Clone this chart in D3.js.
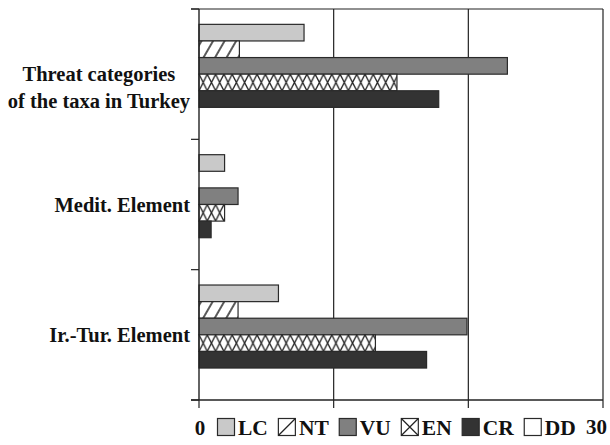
<!DOCTYPE html>
<html>
<head>
<meta charset="utf-8">
<script src="https://cdn.jsdelivr.net/npm/d3@7"></script>
<style>
  html, body { margin: 0; padding: 0; background: #fff; }
  svg { display: block; }
  text { font-family: "Liberation Serif", "Times New Roman", serif; font-weight: bold; fill: #111; }
</style>
</head>
<body>
<svg id="chart" width="610" height="445"></svg>
<script>
// ---- data ----
const groups = ["Threat categories of the taxa in Turkey", "Medit. Element", "Ir.-Tur. Element"];
const groupLabelLines = [["Threat categories", "of the taxa in Turkey"], ["Medit. Element"], ["Ir.-Tur. Element"]];
const series = ["LC", "NT", "VU", "EN", "CR", "DD"];
const valuesLC = [7.8, 1.9, 5.9];
const valuesNT = [3.0, 0, 2.9];
const valuesVU = [22.9, 2.9, 19.9];
const valuesEN = [14.7, 1.9, 13.1];
const valuesCR = [17.8, 0.9, 16.9];
const valuesDD = [0, 0, 0];
const xTicks = [0, 10, 20, 30];
const xTickLabels = ["0", "30"];

const seriesValues = { LC: valuesLC, NT: valuesNT, VU: valuesVU, EN: valuesEN, CR: valuesCR, DD: valuesDD };
const seriesFill = { LC: "#c9c9c9", NT: "url(#hatchNT)", VU: "#808080", EN: "#ffffff", CR: "#333333", DD: "#ffffff" };

const svg = d3.select("#chart");
const plotLeft = 199, plotRight = 603, plotTop = 9, plotBottom = 400;
const ink = "#222";

// patterns
const defs = svg.append("defs");
const pNT = defs.append("pattern").attr("id", "hatchNT").attr("patternUnits", "userSpaceOnUse")
  .attr("width", 10).attr("height", 10).attr("patternTransform", "rotate(30)");
pNT.append("rect").attr("width", 10).attr("height", 10).attr("fill", "#fff");
pNT.append("line").attr("x1", 5).attr("y1", -1).attr("x2", 5).attr("y2", 11)
  .attr("stroke", ink).attr("stroke-width", 1.5);

function crossPattern(id, px, py, w, h) {
  const p = defs.append("pattern").attr("id", id).attr("patternUnits", "userSpaceOnUse")
    .attr("x", px).attr("y", py).attr("width", w).attr("height", h);
  p.append("rect").attr("width", w).attr("height", h).attr("fill", "#fff");
  p.append("path").attr("d", `M0,0L${w},${h}M0,${h}L${w},0`).attr("stroke", ink).attr("stroke-width", 1.3);
  return `url(#${id})`;
}

// scales
const x = d3.scaleLinear().domain([0, 30]).range([plotLeft, plotRight]);
const y0 = d3.scaleBand().domain(groups).range([plotTop, plotBottom]).paddingInner(0).paddingOuter(0);
const y1 = d3.scaleBand().domain(series).range([0, y0.bandwidth()]).paddingInner(0).paddingOuter(0.925);

// gridlines
svg.append("g").selectAll("line").data(xTicks.filter(d => d > 0)).join("line")
  .attr("x1", d => x(d)).attr("x2", d => x(d)).attr("y1", plotTop).attr("y2", plotBottom)
  .attr("stroke", ink).attr("stroke-width", 1.2);

// top border
svg.append("line").attr("x1", plotLeft - 8).attr("x2", plotRight).attr("y1", plotTop).attr("y2", plotTop)
  .attr("stroke", ink).attr("stroke-width", 1.2);

// bars
const g = svg.append("g");
groups.forEach((grp, gi) => {
  series.forEach(s => {
    const v = seriesValues[s][gi];
    if (v <= 0) return;
    const by = y0(grp) + y1(s);
    const fill = s === "EN" ? crossPattern("en" + gi, x(0), by, 8.3, y1.bandwidth()) : seriesFill[s];
    g.append("rect")
      .attr("x", x(0))
      .attr("y", by)
      .attr("width", x(v) - x(0))
      .attr("height", y1.bandwidth())
      .attr("fill", fill)
      .attr("stroke", "#2a2a2a").attr("stroke-width", 1.2);
  });
});

// y axis
const yAxis = svg.append("g");
yAxis.append("line").attr("x1", plotLeft).attr("x2", plotLeft).attr("y1", plotTop).attr("y2", plotBottom)
  .attr("stroke", ink).attr("stroke-width", 1.4);
const boundaries = groups.map(gr => y0(gr)).concat([y0.range()[1]]);
yAxis.selectAll("line.tick").data(boundaries).join("line").attr("class", "tick")
  .attr("x1", plotLeft - 8).attr("x2", plotLeft).attr("y1", d => d).attr("y2", d => d)
  .attr("stroke", ink).attr("stroke-width", 1.2);

// x axis
const xAxis = svg.append("g");
xAxis.append("line").attr("x1", plotLeft - 8).attr("x2", plotRight).attr("y1", plotBottom).attr("y2", plotBottom)
  .attr("stroke", ink).attr("stroke-width", 1.4);
xAxis.selectAll("line.tick").data(xTicks).join("line").attr("class", "tick")
  .attr("x1", d => x(d)).attr("x2", d => x(d)).attr("y1", plotBottom).attr("y2", plotBottom + 8)
  .attr("stroke", ink).attr("stroke-width", 1.2);
xAxis.append("text").attr("x", x(0) + 1).attr("y", 435).attr("text-anchor", "middle")
  .style("font-size", "21px").text(xTickLabels[0]);
xAxis.append("text").attr("x", x(30) + 4).attr("y", 434).attr("text-anchor", "end")
  .style("font-size", "21px").text(xTickLabels[1]);

// category labels
groups.forEach((grp, gi) => {
  const lines = groupLabelLines[gi];
  const cy = y0(grp) + y0.bandwidth() / 2;
  const t = svg.append("text").style("font-size", "20.5px");
  const spans = lines.map((ln, i) => t.append("tspan").attr("y", cy + 7 + i * 27).text(ln));
  const widths = spans.map(sp => sp.node().getComputedTextLength());
  const maxW = d3.max(widths);
  const cx = 190 - maxW / 2;
  spans.forEach(sp => sp.attr("x", cx).attr("text-anchor", "middle"));
});

// legend
let lx = 217;
const legend = svg.append("g");
const sw = 17, sy = 418.5;
series.forEach(s => {
  const sx = lx + 0.5;
  const fill = (s === "NT" || s === "EN") ? "#fff" : seriesFill[s];
  legend.append("rect").attr("x", sx).attr("y", sy).attr("width", sw).attr("height", sw)
    .attr("fill", fill).attr("stroke", "#2a2a2a").attr("stroke-width", 1.2);
  if (s === "NT") {
    legend.append("line").attr("x1", sx).attr("y1", sy + sw).attr("x2", sx + sw).attr("y2", sy)
      .attr("stroke", ink).attr("stroke-width", 1.2);
  }
  if (s === "EN") {
    legend.append("path").attr("d", `M${sx},${sy}L${sx + sw},${sy + sw}M${sx},${sy + sw}L${sx + sw},${sy}`)
      .attr("stroke", ink).attr("stroke-width", 1.2);
  }
  const t = legend.append("text").attr("x", lx + 21).attr("y", 435).style("font-size", "21.5px").text(s);
  const w = t.node().getComputedTextLength();
  lx += 21 + w + 10;
});
</script>
</body>
</html>
